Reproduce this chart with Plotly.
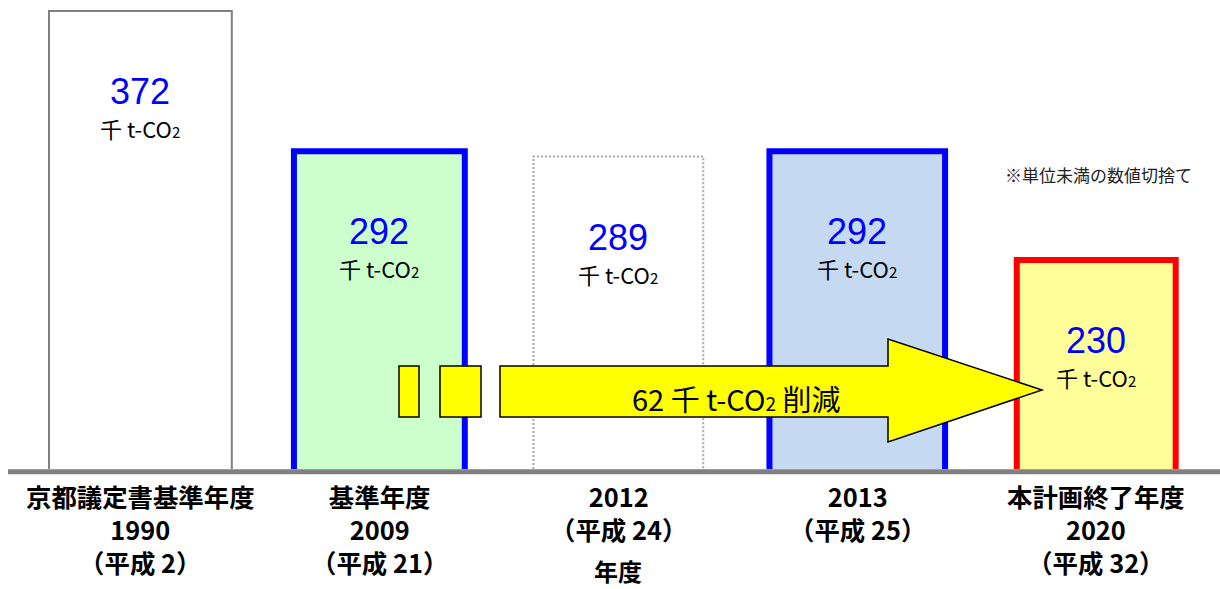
import plotly.graph_objects as go

# CO2 emissions by fiscal year (thousand t-CO2)
years = ["1990", "2009", "2012", "2013", "2020"]
emissions = [372, 292, 289, 292, 230]
label_titles = ["京都議定書基準年度", "基準年度", "", "", "本計画終了年度"]
label_eras = ["（平成 2）", "（平成 21）", "（平成 24）", "（平成 25）", "（平成 32）"]
axis_title = "年度"
note_text = "※単位未満の数値切捨て"

reduction = emissions[1] - emissions[4]

# styling
FONT = "Noto Sans CJK JP"
NUM_FONT = "Liberation Sans"
fills = ["#FFFFFF", "#CCFFCC", "#FFFFFF", "#C5D9F1", "#FFFF99"]
edges = ["#808080", "#0000FF", "#A6A6A6", "#0000FF", "#FF0000"]
edge_widths = [2, 6, 0, 6, 6]
bar_widths = [0.765, 0.715, 0.711, 0.735, 0.665]
dotted = [False, False, True, False, False]

W, H = 1220, 589
PLOT_BOTTOM = 469          # pixel row of the plot-area bottom
Y_FLOOR, Y_TOP = 110.8, 378.3
X_MIN, X_MAX = -0.5876, 4.518
LABEL_SPLIT = -101         # offset below the bar top between value and unit


def paper(px, py):
    """Pixel position -> paper coordinates of the plot area."""
    return px / W, (PLOT_BOTTOM - py) / PLOT_BOTTOM


def unit_html(size):
    return f"千 t-CO<span style='font-size:{size}px'>2</span>"


xs = list(range(len(years)))
fig = go.Figure()

fig.add_trace(go.Bar(
    x=xs, y=emissions, width=bar_widths,
    marker=dict(color=fills, line=dict(color=edges, width=edge_widths)),
    hoverinfo="skip",
))

# dotted outline for the provisional year
for i, v in enumerate(emissions):
    if dotted[i]:
        hw = bar_widths[i] / 2
        fig.add_trace(go.Scatter(
            x=[i - hw, i - hw, i + hw, i + hw],
            y=[Y_FLOOR, v, v, Y_FLOOR],
            mode="lines",
            line=dict(color=edges[i], width=2, dash="2px,2px"),
            hoverinfo="skip",
        ))

annotations = []
for i, v in enumerate(emissions):
    # value (blue) and its unit just below it
    annotations.append(dict(
        x=i, y=v, xref="x", yref="y", text=str(v),
        showarrow=False, yanchor="bottom", yshift=LABEL_SPLIT,
        borderpad=0, borderwidth=0,
        font=dict(family=NUM_FONT, size=36, color="#0000FF"),
    ))
    annotations.append(dict(
        x=i, y=v, xref="x", yref="y", text=unit_html(15),
        showarrow=False, yanchor="top", yshift=LABEL_SPLIT,
        borderpad=0, borderwidth=0,
        font=dict(family=FONT, size=22, color="#000000"),
    ))
    rows = [r for r in (label_titles[i], years[i], label_eras[i]) if r]
    annotations.append(dict(
        x=i, y=0, xref="x", yref="paper", text="<br>".join(rows),
        showarrow=False, yanchor="top", yshift=-7,
        font=dict(family=FONT, size=25.4, color="#000000", weight=700),
    ))

annotations.append(dict(
    x=2, y=0, xref="x", yref="paper", text=axis_title, showarrow=False,
    yanchor="middle", yshift=-101, borderpad=0, borderwidth=0,
    font=dict(family=FONT, size=24, color="#000000", weight=700),
))

ax, ay = paper(736, 398)
annotations.append(dict(
    x=ax, y=ay, xref="paper", yref="paper",
    text=f"{reduction} {unit_html(19)} 削減", showarrow=False,
    xanchor="center", yanchor="middle",
    font=dict(family=FONT, size=29, color="#000000"),
))

nx, ny = paper(1098, 175)
annotations.append(dict(
    x=nx, y=ny, xref="paper", yref="paper", text=note_text, showarrow=False,
    xanchor="center", yanchor="middle",
    font=dict(family=FONT, size=17, color="#222222"),
))

# reduction arrow and the two lead-in blocks
pts = [(500, 366), (888, 366), (888, 339), (1042, 390), (888, 442),
       (888, 417), (500, 417)]
path = "M " + " L ".join(f"{paper(x, y)[0]:.5f},{paper(x, y)[1]:.5f}" for x, y in pts) + " Z"
shapes = [dict(type="path", path=path, xref="paper", yref="paper",
               fillcolor="#FFFF00", line=dict(color="#000000", width=1.5))]
for x0, x1 in [(399, 419), (440, 481)]:
    p0 = paper(x0, 417)
    p1 = paper(x1, 366)
    shapes.append(dict(type="rect", xref="paper", yref="paper",
                       x0=p0[0], y0=p0[1], x1=p1[0], y1=p1[1],
                       fillcolor="#FFFF00", line=dict(color="#000000", width=1.5)))

# ground line
g0 = paper(8, 471.8)
shapes.append(dict(type="line", xref="paper", yref="paper",
                   x0=g0[0], x1=1, y0=g0[1], y1=g0[1],
                   line=dict(color="#808080", width=5)))

fig.update_layout(
    width=W, height=H,
    margin=dict(l=0, r=0, t=0, b=H - PLOT_BOTTOM, pad=0),
    paper_bgcolor="#FFFFFF", plot_bgcolor="#FFFFFF",
    showlegend=False,
    xaxis=dict(visible=False, range=[X_MIN, X_MAX], fixedrange=True),
    yaxis=dict(visible=False, range=[Y_FLOOR, Y_TOP], fixedrange=True),
    annotations=annotations,
    shapes=shapes,
    font=dict(family=FONT),
)

fig.write_html("out.html", config={"displayModeBar": False})
